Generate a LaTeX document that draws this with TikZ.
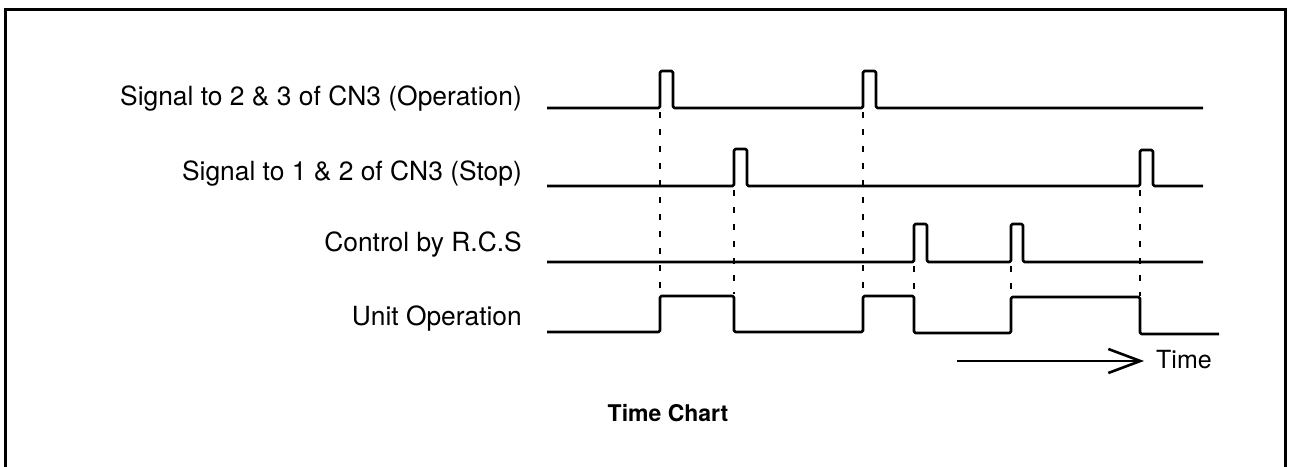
\documentclass[tikz,border=0pt]{standalone}
\usepackage{fontspec}
\setmainfont{TeX Gyre Heros}
\usetikzlibrary{arrows.meta}
\begin{document}
\begin{tikzpicture}[x=1pt,y=-1pt,
  wave/.style={line width=2.6pt,line join=round,rounded corners=1.5pt},
  guide/.style={line width=2.4pt,dash pattern=on 6pt off 11pt},
  frame/.style={line width=3pt},
  lbl/.style={anchor=base east,inner sep=0pt,font=\fontsize{26.4}{30}\selectfont},
  ttl/.style={inner sep=0pt,font=\bfseries\fontsize{23}{27}\selectfont}]
\useasboundingbox (0,0) rectangle (1289,466);
% frame
\draw[frame] (5,475) -- (5,9) -- (1285,9) -- (1285,475);
% labels
\node[lbl] (l1) at (522,105) {Signal to 2 \& 3 of CN3 (Operation)};
\node[lbl] (l2) at (522,180) {Signal to 1 \& 2 of CN3 (Stop)};
\node[lbl] (l3) at (522,251) {Control by R.C.S};
\node[lbl] (l4) at (522,325) {Unit Operation};
% waveforms
\draw[wave] (547,108) -- (660,108) -- (660,71) -- (673,71) -- (673,108) -- (863,108) -- (863,71) -- (876,71) -- (876,108) -- (1203,108);
\draw[wave] (547,186) -- (734,186) -- (734,149) -- (747,149) -- (747,186) -- (1140,186) -- (1140,150) -- (1153,150) -- (1153,186) -- (1203,186);
\draw[wave] (547,262) -- (914,262) -- (914,224) -- (927,224) -- (927,262) -- (1011,262) -- (1011,224) -- (1023,224) -- (1023,262) -- (1203,262);
\draw[wave] (547,332) -- (660,332) -- (660,296) -- (734,296) -- (734,332) -- (863,332) -- (863,296) -- (914,296) -- (914,333) -- (1011,333) -- (1011,297) -- (1140,297) -- (1140,334) -- (1219,334);
% guide lines
\draw[guide] (660,112) -- (660,294);
\draw[guide] (734,190) -- (734,294);
\draw[guide] (863,112) -- (863,294);
\draw[guide] (914,266) -- (914,294);
\draw[guide] (1011,266) -- (1011,294);
\draw[guide] (1140,190) -- (1140,296);
% time arrow
\node[inner sep=0pt,anchor=base west,font=\fontsize{25}{30}\selectfont] (time) at (1156,368) {Time};
\coordinate (a0) at (957,361);
\coordinate (a1) at (1144,361);
\draw[line width=2.4pt,-{Straight Barb[length=32pt,width=24pt,line width=2.6pt]}] (a0) -- (a1);
% title
\node[ttl,anchor=base] (title) at (668,421) {Time Chart};
\end{tikzpicture}
\end{document}
